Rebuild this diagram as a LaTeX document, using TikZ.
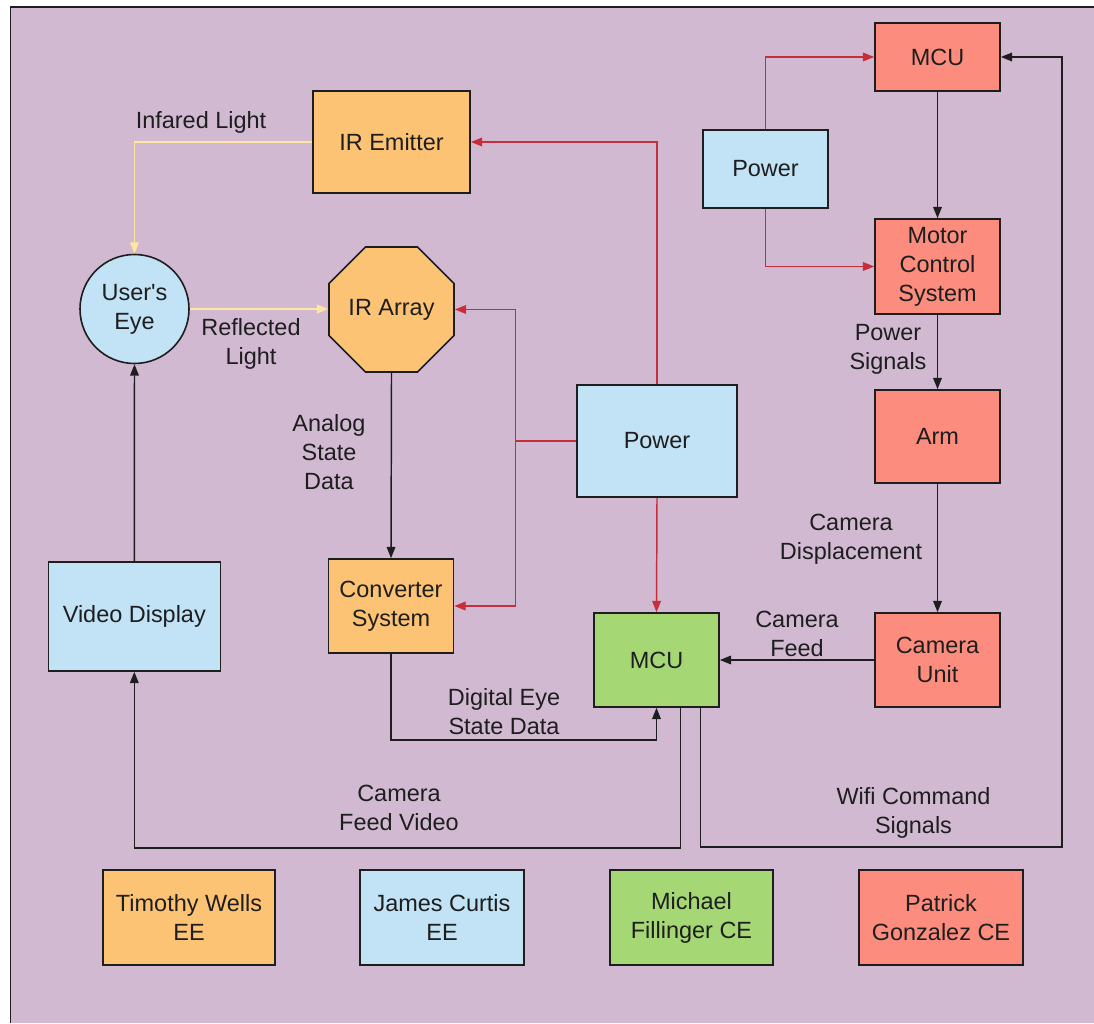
\documentclass[tikz,border=0pt]{standalone}
\usepackage{fontspec}
\setmainfont{Liberation Sans}[Ligatures=TeXOff]
\usetikzlibrary{arrows.meta,shapes.geometric}
\definecolor{bgl}{RGB}{209,186,209}
\definecolor{orng}{RGB}{253,195,116}
\definecolor{lblu}{RGB}{193,227,245}
\definecolor{lgrn}{RGB}{165,216,117}
\definecolor{slmn}{RGB}{252,141,126}
\definecolor{redln}{RGB}{201,45,57}
\definecolor{yelln}{RGB}{255,230,160}
\definecolor{ink}{RGB}{30,30,30}
\newcommand\labfont{\fontsize{17.6pt}{21.75pt}\selectfont}
\begin{document}
\begin{tikzpicture}[x=0.75pt,y=-0.75pt,
  every node/.style={text=ink, font=\labfont, align=center, inner sep=0pt},
  box/.style={draw=ink, line width=1.2pt, rectangle, minimum width=93.75pt, minimum height=70.5pt},
  lbl/.style={},
  blk/.style={draw=ink, line width=1.1pt, -{Triangle[length=8.5pt,width=6.5pt]}},
  redl/.style={draw=redln, line width=1.1pt, -{Triangle[length=8.5pt,width=6.5pt]}},
  yel/.style={draw=yelln, line width=1.1pt, -{Triangle[length=8.5pt,width=6.5pt]}}
]
\useasboundingbox (0,0) rectangle (1094,1023);
\fill[white] (0,0) rectangle (1094,1023);
\fill[bgl] (10.5,7.3) rectangle (1094,1023);
\draw[ink, line width=1.2pt] (10.5,1023) -- (10.5,7.3) -- (1094,7.3);

% nodes
\node[box, fill=orng, minimum width=117.75pt, minimum height=76.5pt] (irem) at (391.5,142) {IR Emitter};
\node[draw=ink, line width=1.2pt, fill=lblu, circle, minimum size=81.75pt] (eye) at (134.5,309) {User's\\Eye};
\node[draw=ink, line width=1.2pt, fill=orng, regular polygon, regular polygon sides=8, minimum size=101.5pt] (irarr) at (391.5,309.5) {IR Array};
\node[box, fill=orng] (conv) at (391,606) {Converter\\System};
\node[box, fill=lblu, minimum width=129pt, minimum height=81.75pt] (vid) at (134.3,616.5) {Video Display};
\node[box, fill=lblu, minimum width=119.6pt, minimum height=84pt] (pow2) at (657,441) {Power};
\node[box, fill=lgrn] (mcu2) at (656.5,660) {MCU};
\node[box, fill=lblu, minimum height=58.5pt] (pow1) at (765.5,169) {Power};
\node[box, fill=slmn, minimum height=51pt] (mcu1) at (937.5,57) {MCU};
\node[box, fill=slmn, minimum height=71.25pt] (mot) at (937.5,266.5) {Motor\\Control\\System};
\node[box, fill=slmn, minimum height=69.75pt] (arm) at (937.5,436.5) {Arm};
\node[box, fill=slmn] (cam) at (937.5,660) {Camera\\Unit};

\node[box, fill=orng, minimum width=129pt, minimum height=71.25pt] (tw) at (189,917.5) {Timothy Wells\\EE};
\node[box, fill=lblu, minimum width=123pt, minimum height=71.25pt] (jc) at (442,917.5) {James Curtis\\EE};
\node[box, fill=lgrn, minimum width=122.25pt, minimum height=71.25pt] (mf) at (691.5,917.5) {Michael\\Fillinger CE};
\node[box, fill=slmn, minimum width=123pt, minimum height=71.25pt] (pg) at (941,917.5) {Patrick\\Gonzalez CE};

% labels
\node[lbl] (l1) at (201,122) {Infared Light};
\node[lbl] (l2) at (251,344) {Reflected\\Light};
\node[lbl] (l3) at (329,452) {Analog\\State\\Data};
\node[lbl] (l4) at (504,712) {Digital Eye\\State Data};
\node[lbl] (l5) at (399,808) {Camera\\Feed Video};
\node[lbl] (l6) at (797,634) {Camera\\Feed};
\node[lbl] (l7) at (851,539) {Camera\\Displacement};
\node[lbl] (l8) at (888,349) {Power\\Signals};
\node[lbl] (l9) at (913.5,812.5) {Wifi Command\\Signals};

% connectors
\coordinate (rj) at (515.6,441);
\coordinate (wr) at (1062,847);
\draw[yel] (irem.west) -| (eye.north);
\draw[yel] (eye.east) -- (eye.east -| irarr.west);
\draw[blk] (vid.north) -- (eye.south);
\draw[blk] (irarr.south) -- (conv.north);
\draw[redl] (pow2.west) -- (rj) |- (irarr.east);
\draw[redl] (rj) |- (conv.east);
\draw[redl] (pow2.north) |- (irem.east);
\draw[redl] (pow2.south) -- (mcu2.north);
\draw[blk] (conv.south) -- ++(0,86) -| (mcu2.south);
\draw[blk] (cam.west) -- (mcu2.east);
\draw[blk] ([xshift=18pt]mcu2.south) -- ++(0,140) -| (vid.south);
\draw[blk] ([xshift=33pt]mcu2.south) |- (wr) |- (mcu1.east);
\draw[redl] (pow1.north) |- (mcu1.west);
\draw[redl] (pow1.south) |- (mot.west);
\draw[blk] (mcu1.south) -- (mot.north);
\draw[blk] (mot.south) -- (arm.north);
\draw[blk] (arm.south) -- (cam.north);
\end{tikzpicture}
\end{document}
